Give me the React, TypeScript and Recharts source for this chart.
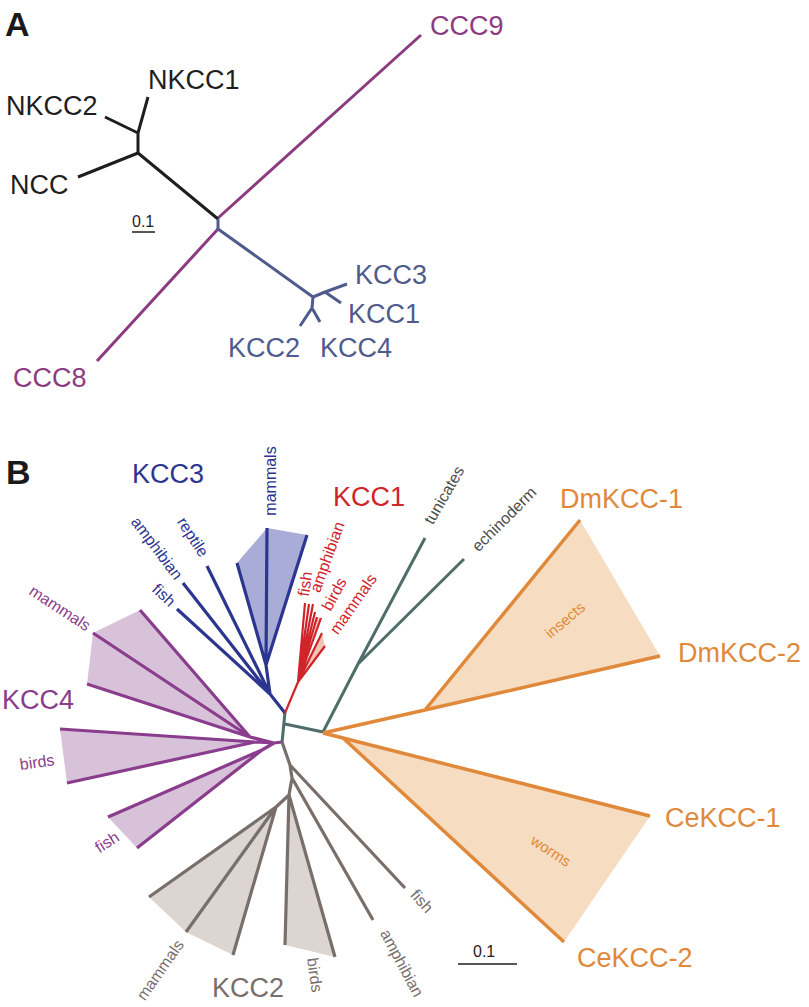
import React from "react";
import { ScatterChart, Scatter, XAxis, YAxis } from "recharts";

// tree drawn in figure units (same scale as the picture), y grows downward
type Seg = [number, number, number, number];
type Pt = [number, number];

// ---- panel A: CCC family tree ----
const aBlackSegs: Seg[] = [
  [218, 219, 138, 153],
  [138, 153, 78, 177],
  [138, 153, 138, 133],
  [138, 133, 105, 117],
  [138, 133, 148, 97],
];
const aMagentaSegs: Seg[] = [
  [218, 218, 421, 35],
  [218, 229, 97, 361],
];
const aBlueSegs: Seg[] = [
  [218, 219, 218, 230],
  [218, 229, 313, 297],
  [313, 297, 325, 292],
  [325, 292, 347, 284],
  [325, 292, 341, 303],
  [313, 297, 312, 308],
  [312, 308, 300, 326],
  [312, 308, 320, 322],
];
const aScaleSegs: Seg[] = [[132, 232, 155, 232]];

// ---- panel B: KCC tree ----
const kcc3Segs: Seg[] = [
  [285, 713, 270, 694],
  [270, 694, 177, 609],
  [270, 694, 183, 583],
  [270, 694, 207, 566],
  [270, 694, 266, 665],
  [266, 665, 237, 563],
  [266, 665, 267, 528],
  [266, 665, 307, 535],
];
const kcc3Mammals: Pt[] = [[266, 665], [237, 563], [267, 528], [307, 535]];

const kcc1Segs: Seg[] = [
  [285, 713, 298, 682],
  [298, 682, 305, 603],
  [298, 682, 309, 604],
  [298, 682, 313, 604],
  [298, 682, 315, 612],
  [298, 682, 317, 617],
  [298, 682, 321, 618],
  [298, 682, 322, 633],
  [298, 682, 325, 646],
];
const kcc1Birds: Pt[] = [[298, 682], [317, 617], [321, 618]];
const kcc1Mammals: Pt[] = [[298, 682], [322, 633], [325, 646]];

const tealSegs: Seg[] = [
  [285, 712, 282, 743],
  [285, 724, 323, 732],
  [323, 732, 358, 664],
  [358, 664, 425, 538],
  [358, 664, 464, 559],
];

const orangeSegs: Seg[] = [
  [323, 733, 425, 710],
  [425, 710, 580, 520],
  [425, 710, 660, 656],
  [323, 733, 343, 738],
  [343, 738, 650, 816],
  [343, 738, 564, 942],
];
const insectsPoly: Pt[] = [[425, 710], [580, 520], [660, 656]];
const wormsPoly: Pt[] = [[343, 738], [650, 816], [564, 942]];

const kcc4Segs: Seg[] = [
  [282, 742, 274, 743],
  [274, 743, 250, 737],
  [274, 743, 255, 742],
  [274, 743, 262, 750],
  [250, 737, 140, 610],
  [250, 737, 93, 633],
  [250, 737, 87, 684],
  [255, 742, 60, 729],
  [255, 742, 67, 783],
  [262, 750, 108, 817],
  [262, 750, 137, 848],
];
const kcc4Mammals: Pt[] = [[250, 737], [140, 610], [93, 633], [87, 684]];
const kcc4Birds: Pt[] = [[255, 742], [60, 729], [67, 783]];
const kcc4Fish: Pt[] = [[262, 750], [108, 817], [137, 848]];

const kcc2Segs: Seg[] = [
  [282, 742, 290, 765],
  [290, 765, 292, 778],
  [292, 778, 289, 795],
  [289, 795, 276, 807],
  [290, 765, 405, 888],
  [292, 778, 373, 920],
  [289, 795, 285, 945],
  [289, 795, 335, 957],
  [276, 807, 149, 897],
  [276, 807, 186, 932],
  [276, 807, 233, 955],
];
const kcc2Mammals: Pt[] = [[276, 807], [149, 897], [186, 932], [233, 955]];
const kcc2Birds: Pt[] = [[289, 795], [285, 945], [335, 957]];

const bScaleSegs: Seg[] = [[458, 964, 517, 964]];

// labels: text, anchor point, rotation, style key
const labelTexts = [
  "A", "NKCC1", "NKCC2", "NCC", "CCC9", "CCC8", "0.1", "KCC3", "KCC1", "KCC2", "KCC4",
  "B", "KCC3", "KCC1", "KCC4", "KCC2", "DmKCC-1", "DmKCC-2", "CeKCC-1", "CeKCC-2", "0.1",
  "fish", "amphibian", "reptile", "mammals",
  "fish", "amphibian", "birds", "mammals",
  "tunicates", "echinoderm",
  "mammals", "birds", "fish",
  "fish", "amphibian", "birds", "mammals",
  "insects", "worms",
];
const labelX = [
  5, 148, 6, 10, 430, 13, 132, 355, 348, 228, 320,
  6, 132, 333, 2, 212, 560, 678, 665, 577, 473,
  164, 157, 193, 270,
  305, 327, 334, 353,
  444, 504,
  60, 37, 107,
  422, 402, 315, 160,
  565, 551,
];
const labelY = [
  36, 89, 115, 194, 35, 387, 227, 284, 323, 357, 357,
  484, 483, 506, 709, 997, 508, 662, 827, 967, 957,
  595, 548, 537, 481,
  584, 557, 594, 604,
  495, 519,
  608, 762, 842,
  901, 963, 975, 970,
  620, 851,
];
const labelAngle = [
  0, 0, 0, 0, 0, 0, 0, 0, 0, 0, 0,
  0, 0, 0, 0, 0, 0, 0, 0, 0, 0,
  43, 53, 57, -90,
  -82, -70, -62, -55,
  -60, -45,
  33, -8, -33,
  48, 62, 82, -55,
  -40, 33,
];
const labelKind = [
  "panel", "aBlack", "aBlack", "aBlack", "aMag", "aMag", "scale", "aBlue", "aBlue", "aBlue", "aBlue",
  "panel", "navy", "red", "purple", "gray", "orange", "orange", "orange", "orange", "scale",
  "navyS", "navyS", "navyS", "navyS",
  "redS", "redS", "redS", "redS",
  "tealS", "tealS",
  "purpleS", "purpleS", "purpleS",
  "grayS", "grayS", "grayS", "grayS",
  "orangeS", "orangeS",
];

const C = {
  black: "#1e1e1e",
  aMag: "#8c3b80",
  aBlue: "#4f5b8c",
  navy: "#2c3590",
  red: "#d0242b",
  teal: "#4f6e6a",
  orange: "#e0893a",
  purple: "#8a3d8c",
  gray: "#786e6a",
};

const kindStyle: Record<string, { fill: string; size: number; weight?: number }> = {
  panel: { fill: "#1a1a1a", size: 34, weight: 700 },
  aBlack: { fill: C.black, size: 27 },
  aMag: { fill: C.aMag, size: 27 },
  aBlue: { fill: C.aBlue, size: 27 },
  scale: { fill: C.black, size: 16 },
  navy: { fill: C.navy, size: 27 },
  red: { fill: C.red, size: 27 },
  purple: { fill: C.purple, size: 27 },
  gray: { fill: C.gray, size: 27 },
  orange: { fill: C.orange, size: 27 },
  navyS: { fill: C.navy, size: 16 },
  redS: { fill: C.red, size: 16 },
  tealS: { fill: "#4d4d4d", size: 16 },
  purpleS: { fill: C.purple, size: 16 },
  grayS: { fill: C.gray, size: 16 },
  orangeS: { fill: C.orange, size: 15 },
};

const FONT = "'Liberation Sans', Arial, sans-serif";

const segPoints = (segs: Seg[]) =>
  segs.flatMap(([x1, y1, x2, y2]) => [
    { x: x1, y: y1 },
    { x: x2, y: y2 },
  ]);
const polyPoints = (pts: Pt[]) => pts.map(([x, y]) => ({ x, y }));

const labels = labelTexts.map((text, i) => ({
  x: labelX[i],
  y: labelY[i],
  text,
  angle: labelAngle[i],
  kind: labelKind[i],
}));

const noDot = () => <g />;

const segLine = (stroke: string, width: number) => (p: any) => {
  const pts = p.points || [];
  let d = "";
  for (let i = 0; i + 1 < pts.length; i += 2) {
    d += `M${pts[i].x},${pts[i].y}L${pts[i + 1].x},${pts[i + 1].y}`;
  }
  return <path d={d} stroke={stroke} strokeWidth={width} fill="none" strokeLinejoin="round" />;
};

const polyLine = (fill: string) => (p: any) => (
  <polygon
    points={(p.points || []).map((q: any) => `${q.x},${q.y}`).join(" ")}
    fill={fill}
    stroke="none"
  />
);

const renderLabel = (p: any) => {
  const { cx, cy, payload } = p;
  const st = kindStyle[payload.kind];
  const rotated = payload.angle !== 0;
  return (
    <text
      x={cx}
      y={cy}
      fill={st.fill}
      fontSize={st.size}
      fontWeight={st.weight || 400}
      fontFamily={FONT}
      textAnchor={rotated ? "middle" : "start"}
      dy={rotated ? "0.35em" : 0}
      transform={rotated ? `rotate(${payload.angle}, ${cx}, ${cy})` : undefined}
    >
      {payload.text}
    </text>
  );
};

const polys: [Pt[], string][] = [
  [kcc3Mammals, "#aaacd8"],
  [kcc1Birds, "#f3c6b4"],
  [kcc1Mammals, "#f3c6b4"],
  [insectsPoly, "#f6dcc0"],
  [wormsPoly, "#f6dcc0"],
  [kcc4Mammals, "#d7c2da"],
  [kcc4Birds, "#d7c2da"],
  [kcc4Fish, "#d7c2da"],
  [kcc2Mammals, "#dcd5d2"],
  [kcc2Birds, "#dcd5d2"],
];

const branches: [Seg[], string, number][] = [
  [aMagentaSegs, C.aMag, 3],
  [aBlackSegs, C.black, 3],
  [aBlueSegs, C.aBlue, 3],
  [aScaleSegs, C.black, 1.5],
  [tealSegs, C.teal, 3],
  [kcc3Segs, C.navy, 3.2],
  [kcc1Segs, C.red, 2.2],
  [orangeSegs, C.orange, 3.5],
  [kcc4Segs, C.purple, 3.2],
  [kcc2Segs, C.gray, 3.2],
  [bScaleSegs, C.black, 1.5],
];

export default function App() {
  return (
    <div style={{ position: "absolute", left: 0, top: 0, width: 809, height: 1007, background: "#fff" }}>
      <ScatterChart width={809} height={1007} margin={{ top: 0, right: 0, bottom: 0, left: 0 }}>
        <XAxis type="number" dataKey="x" domain={[0, 809]} allowDataOverflow hide />
        <YAxis type="number" dataKey="y" domain={[0, 1007]} allowDataOverflow reversed hide />
        {polys.map(([pts, fill], i) => (
          <Scatter
            key={`poly-${i}`}
            data={polyPoints(pts)}
            shape={noDot}
            line={polyLine(fill)}
            isAnimationActive={false}
          />
        ))}
        {branches.map(([segs, stroke, w], i) => (
          <Scatter
            key={`br-${i}`}
            data={segPoints(segs)}
            shape={noDot}
            line={segLine(stroke, w)}
            isAnimationActive={false}
          />
        ))}
        <Scatter data={labels} shape={renderLabel} isAnimationActive={false} />
      </ScatterChart>
    </div>
  );
}
